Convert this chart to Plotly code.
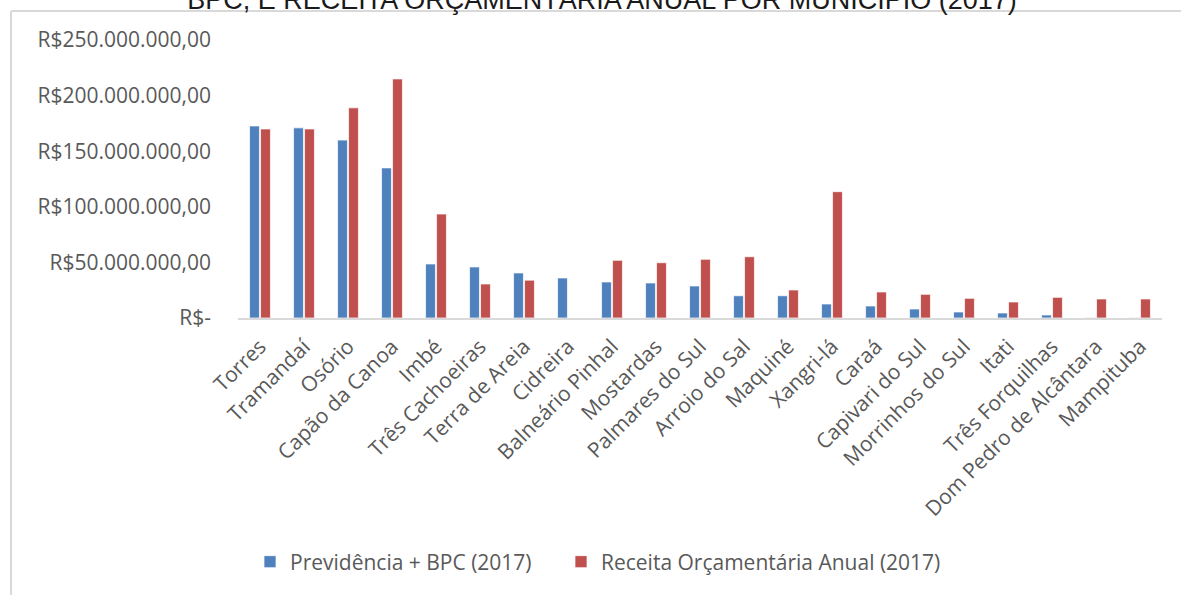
import plotly.graph_objects as go

municipios = [
    "Torres", "Tramandaí", "Osório", "Capão da Canoa", "Imbé",
    "Três Cachoeiras", "Terra de Areia", "Cidreira", "Balneário Pinhal",
    "Mostardas", "Palmares do Sul", "Arroio do Sal", "Maquiné", "Xangri-lá",
    "Caraá", "Capivari do Sul", "Morrinhos do Sul", "Itati",
    "Três Forquilhas", "Dom Pedro de Alcântara", "Mampituba",
]

previdencia_bpc = [
    172.7e6, 171.0e6, 160.0e6, 135.0e6, 48.6e6,
    45.9e6, 40.5e6, 36.0e6, 32.4e6,
    31.5e6, 28.8e6, 20.0e6, 20.0e6, 12.6e6,
    10.8e6, 8.1e6, 5.4e6, 4.5e6,
    2.7e6, 0.4e6, 0.3e6,
]

receita_orcamentaria = [
    170.0e6, 170.0e6, 189.0e6, 215.0e6, 93.5e6,
    30.6e6, 34.0e6, 0.0, 51.9e6,
    49.7e6, 52.8e6, 55.1e6, 25.2e6, 113.6e6,
    23.4e6, 21.3e6, 17.7e6, 14.4e6,
    18.6e6, 17.1e6, 17.1e6,
]

y_ticks = [0, 50e6, 100e6, 150e6, 200e6, 250e6]
y_tick_labels = [
    "R$-", "R$50.000.000,00", "R$100.000.000,00",
    "R$150.000.000,00", "R$200.000.000,00", "R$250.000.000,00",
]

W, H = 1181, 595
L, R, T, B = 238, 19, 40, 277
plot_w = W - L - R
plot_h = H - T - B


def px_to_paper_x(px):
    return (px - L) / plot_w


def px_to_paper_y(py):
    return (H - B - py) / plot_h


grey_text = "#595959"
frame = "#D9D9D9"
tick_font = dict(family="Open Sans", size=21, color=grey_text)
bar_edge = dict(color="rgba(255,255,255,0.7)", width=1)

fig = go.Figure()
fig.add_trace(go.Bar(
    x=municipios, y=previdencia_bpc, name="Previdência + BPC (2017)",
    marker=dict(color="#4F81BD", line=bar_edge), legend="legend",
))
fig.add_trace(go.Bar(
    x=municipios, y=receita_orcamentaria, name="Receita Orçamentária Anual (2017)",
    marker=dict(color="#C0504D", line=bar_edge), legend="legend2",
))

legend_common = dict(
    orientation="h", xanchor="left",
    y=px_to_paper_y(562), yanchor="middle",
    font=tick_font, bgcolor="rgba(0,0,0,0)",
)

fig.update_layout(
    width=W, height=H,
    margin=dict(l=L, r=R, t=T, b=B, pad=0),
    paper_bgcolor="white", plot_bgcolor="white",
    barmode="group", bargap=0.5, bargroupgap=0.1,
    showlegend=True,
    legend=dict(x=px_to_paper_x(250), **legend_common),
    legend2=dict(x=px_to_paper_x(561), **legend_common),
    title=dict(
        text="BPC, E RECEITA ORÇAMENTÁRIA ANUAL POR MUNICÍPIO (2017)",
        x=602 / W, xanchor="center",
        y=1.0, yref="container", yanchor="middle",
        font=dict(family="Liberation Sans", size=27, color="#1a1a1a"),
    ),
    xaxis=dict(
        type="category", tickangle=-45, showgrid=False,
        showline=True, linecolor=frame, linewidth=2,
        ticks="", ticklabelstandoff=6,
        tickfont=tick_font,
    ),
    yaxis=dict(
        range=[0, 250e6], tickvals=y_ticks, ticktext=y_tick_labels,
        showgrid=False, zeroline=False, showline=False, ticks="",
        ticklabelstandoff=26,
        tickfont=tick_font,
    ),
    shapes=[
        dict(type="line", xref="paper", yref="paper",
             x0=px_to_paper_x(11), x1=px_to_paper_x(11),
             y0=px_to_paper_y(11), y1=px_to_paper_y(600),
             line=dict(color=frame, width=2)),
        dict(type="line", xref="paper", yref="paper",
             x0=px_to_paper_x(11), x1=px_to_paper_x(1185),
             y0=px_to_paper_y(11), y1=px_to_paper_y(11),
             line=dict(color=frame, width=2)),
    ],
)

fig.write_html("out.html")
